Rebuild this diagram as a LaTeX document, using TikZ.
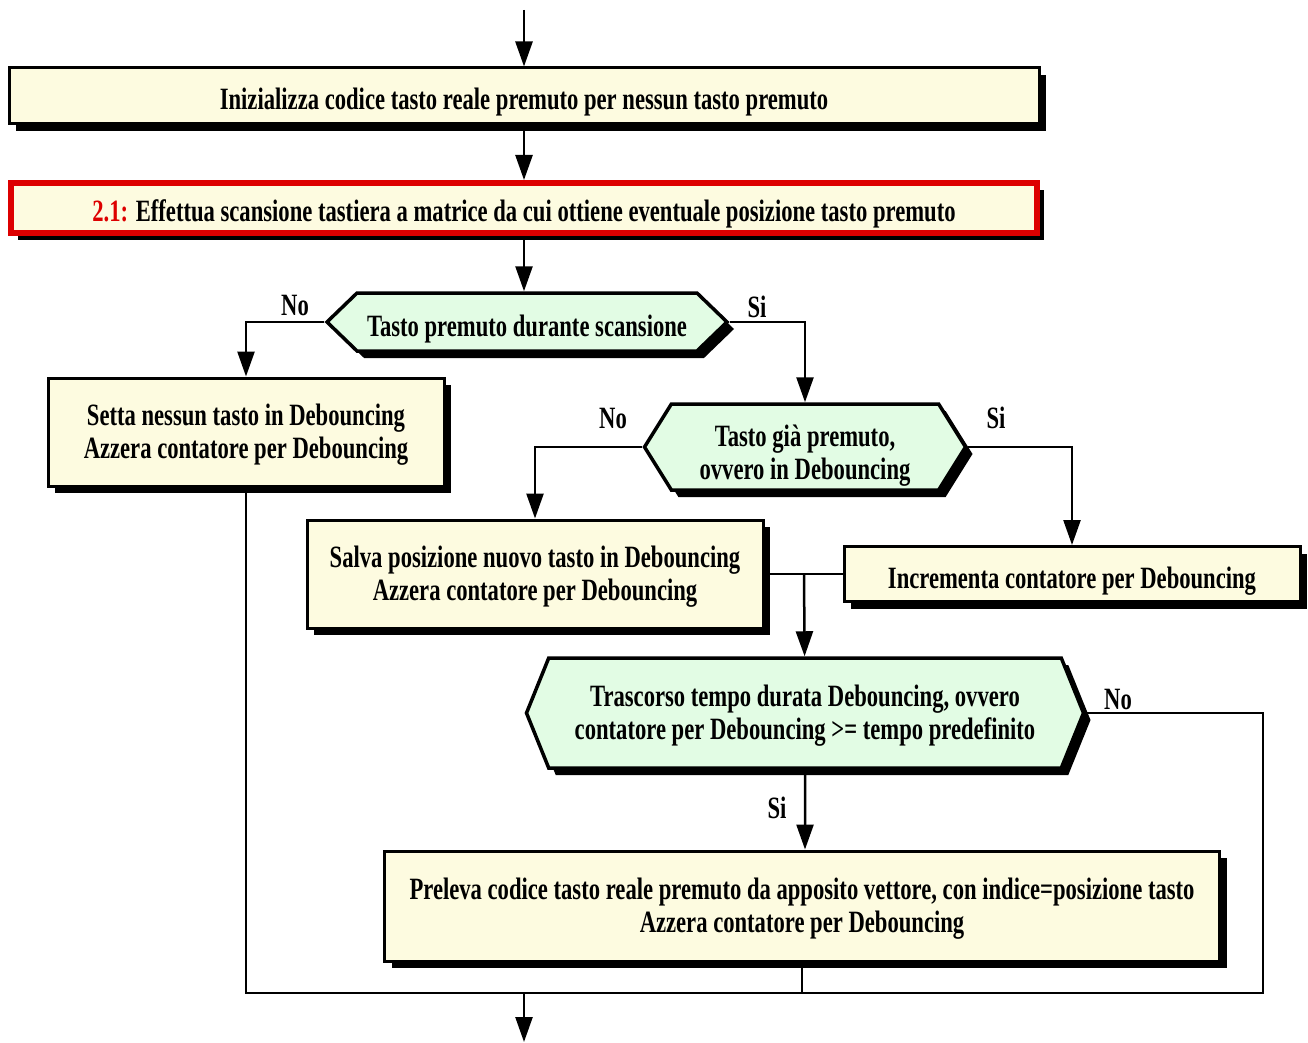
\documentclass[tikz,border=0pt]{standalone}
\usepackage{fontspec}
\setmainfont{Liberation Serif}[FakeStretch=0.73]
\usepackage{xcolor}
\usetikzlibrary{shapes.symbols, shadows, arrows.meta}

\definecolor{boxfill}{RGB}{253,251,224}
\definecolor{hexfill}{RGB}{226,252,228}
\definecolor{redline}{RGB}{221,0,0}

\begin{document}
\begin{tikzpicture}[x=1pt, y=-1pt, >={Triangle[length=25pt,width=17pt]},
        font=\fontsize{31}{33}\selectfont\bfseries,
        process/.style={rectangle, draw, line width=3pt, fill=boxfill, align=center,
            drop shadow={shadow xshift=7pt, shadow yshift=-7pt, fill=black, opacity=1}},
        test/.style={signal, signal to=west and east, draw, line width=3.5pt, fill=hexfill, align=center,
            inner sep=0pt, drop shadow={shadow xshift=7pt, shadow yshift=-7pt, fill=black, opacity=1}},
        oneline/.style={text height=28pt, text depth=0pt},
        lbl/.style={inner sep=0pt},
        flow/.style={line width=2.5pt},
        back/.style={line width=2pt}]
        \useasboundingbox (0,0) rectangle (1308,1043);

        \node[process, oneline, minimum width=1030, minimum height=56] (init) at (524, 96) {Inizializza codice tasto reale premuto per nessun tasto premuto};
        \node[process, oneline, draw=redline, line width=6pt, minimum width=1026, minimum height=50] (scan) at (524, 208) {\textcolor{redline}{2.1:} Effettua scansione tastiera a matrice da cui ottiene eventuale posizione tasto premuto};
        \node[test, oneline, signal pointer angle=88, minimum width=400, minimum height=58] (pressed) at (527, 322) {Tasto premuto durante scansione};
        \node[process, minimum width=396, minimum height=108] (reset) at (246, 432) {\rule{0pt}{26pt}Setta nessun tasto in Debouncing\\Azzera contatore per Debouncing};
        \node[test, signal pointer angle=116, minimum width=321, minimum height=86] (already) at (805, 447) {\rule{0pt}{38pt}Tasto già premuto,\\ovvero in Debouncing};
        \node[process, minimum width=456, minimum height=108] (save) at (535, 574) {\rule{0pt}{26pt}Salva posizione nuovo tasto in Debouncing\\Azzera contatore per Debouncing};
        \node[process, oneline, minimum width=456, minimum height=55] (incr) at (1072, 574) {Incrementa contatore per Debouncing};
        \node[test, signal pointer angle=136, minimum width=557, minimum height=110] (elapsed) at (805, 713) {\rule{0pt}{26pt}Trascorso tempo durata Debouncing, ovvero\\contatore per Debouncing >= tempo predefinito};
        \node[process, minimum width=835, minimum height=110] (fetch) at (802, 906) {\rule{0pt}{26pt}Preleva codice tasto reale premuto da apposito vettore, con indice=posizione tasto\\Azzera contatore per Debouncing};

        \node[lbl] (no1) at (295, 306) {No};
        \node[lbl] (si1) at (757, 307) {Si};
        \node[lbl] (no2) at (613, 418) {No};
        \node[lbl] (si2) at (996, 418) {Si};
        \node[lbl] (no3) at (1118, 699) {No};
        \node[lbl] (si3) at (777, 808) {Si};

        \coordinate (start) at (524, 10);
        \coordinate (merge) at (804, 574);
        \coordinate (corner) at (1263, 993);
        \coordinate (join) at (524, 993);
        \coordinate (end) at (524, 1042);

        \draw[->, flow] (start) -- (init);
        \draw[->, flow] (init) -- (scan);
        \draw[->, flow] (scan) -- (scan |- pressed.north);
        \draw[->, flow] (pressed.west) -| (reset.north);
        \draw[->, flow] (pressed.east) -| (already.north);
        \draw[->, flow] (already.west) -| (save.north);
        \draw[->, flow] (already.east) -| (incr.north);
        \draw[flow] (save.east) -- (incr.west);
        \draw[->, flow] (merge) -- (elapsed);
        \draw[->, flow] (elapsed) -- (elapsed |- fetch.north);
        \draw[back] (reset.south) |- (corner) |- (elapsed.east);
        \draw[back] (fetch.south) -- (fetch.south |- join);
        \draw[->, flow] (join) -- (end);

    \end{tikzpicture}
\end{document}
